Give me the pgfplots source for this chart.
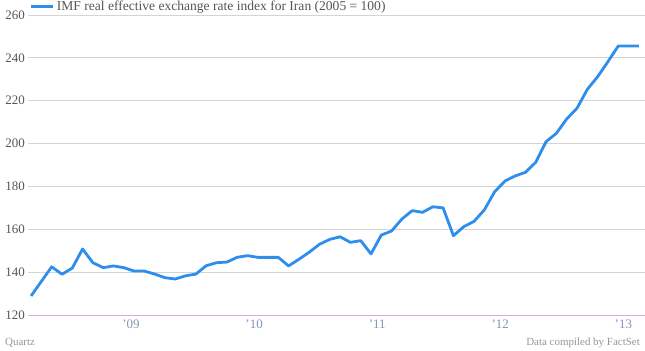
\documentclass[border=0pt]{standalone}
\usepackage{fontspec}
\setmainfont{Liberation Serif}
\usepackage{pgfplots}
\pgfplotsset{compat=1.18}
\definecolor{qzblue}{RGB}{45,142,236}
\definecolor{gridgrey}{RGB}{212,212,212}
\definecolor{pinkline}{RGB}{222,170,222}
\definecolor{ylab}{RGB}{85,85,85}
\definecolor{xlab}{RGB}{130,150,180}
\definecolor{foot}{RGB}{150,150,150}
\begin{document}
\begin{tikzpicture}
\begin{axis}[
  at={(0,0)}, anchor=south west,
  scale only axis, width=617bp, height=300bp,
  xmin=-0.3, xmax=59.6, ymin=120, ymax=260,
  clip=false,
  axis line style={draw=none},
  major tick length=0pt,
  ytick={120,140,...,260},
  ymajorgrids, grid style={color=gridgrey, line width=0.8bp},
  extra y ticks={120}, extra y tick labels={},
  extra y tick style={grid style={color=pinkline, line width=0.9bp}},
  xtick={9.7,21.65,33.6,45.55,57.5},
  xticklabels={’09,’10,’11,’12,’13},
  /pgf/number format/assume math mode=true,
  yticklabel style={font=\fontsize{13}{15}\selectfont, text=ylab, anchor=east, inner sep=0pt, xshift=-3bp},
  xticklabel style={font=\fontsize{13}{15}\selectfont, text=xlab, anchor=north, inner sep=0pt, yshift=-5bp},
  yticklabel={\pgfmathprintnumber[fixed]{\tick}},
  legend style={draw=none, fill=none, at={(rel axis cs:0.003,1.027)}, anchor=west, inner sep=0pt,
    font=\fontsize{13.6}{15}\selectfont\color{ylab}},
  legend cell align=left,
  legend image code/.code={\draw[#1, line width=2.8bp] (0bp,0bp) -- (22bp,0bp);},
]
\addplot[color=qzblue, line width=2.8bp, line join=round] coordinates {
(0,128.9) (1,135.7) (2,142.5) (3,139.0) (4,141.9) (5,150.8) (6,144.4) (7,142.1)
(8,142.9) (9,142.1) (10,140.5) (11,140.5) (12,139.1) (13,137.4) (14,136.8) (15,138.3)
(16,139.1) (17,143.0) (18,144.4) (19,144.7) (20,146.9) (21,147.7) (22,146.9) (23,146.9)
(24,146.9) (25,142.9) (26,146.0) (27,149.3) (28,153.0) (29,155.3) (30,156.5) (31,153.9)
(32,154.7) (33,148.5) (34,157.3) (35,159.2) (36,164.8) (37,168.7) (38,167.9) (39,170.5)
(40,170.0) (41,157.0) (42,161.2) (43,163.7) (44,169.0) (45,177.5) (46,182.5) (47,184.9)
(48,186.6) (49,191.3) (50,200.9) (51,204.8) (52,211.5) (53,216.5) (54,225.3) (55,231.2)
(56,238.2) (57,245.5) (58,245.5) (59,245.5)
};
\addlegendentry{IMF real effective exchange rate index for Iran (2005 = 100)}
\end{axis}
\node[anchor=base west, inner sep=0pt, text=foot, font=\fontsize{11}{12}\selectfont] at (-23bp,-30bp) {Quartz};
\node[anchor=base east, inner sep=0pt, text=foot, font=\fontsize{11}{12}\selectfont] at (612bp,-30bp) {Data compiled by FactSet};
\pgfresetboundingbox
\path (-28bp,-36bp) rectangle (617bp,315bp);
\end{tikzpicture}
\end{document}
